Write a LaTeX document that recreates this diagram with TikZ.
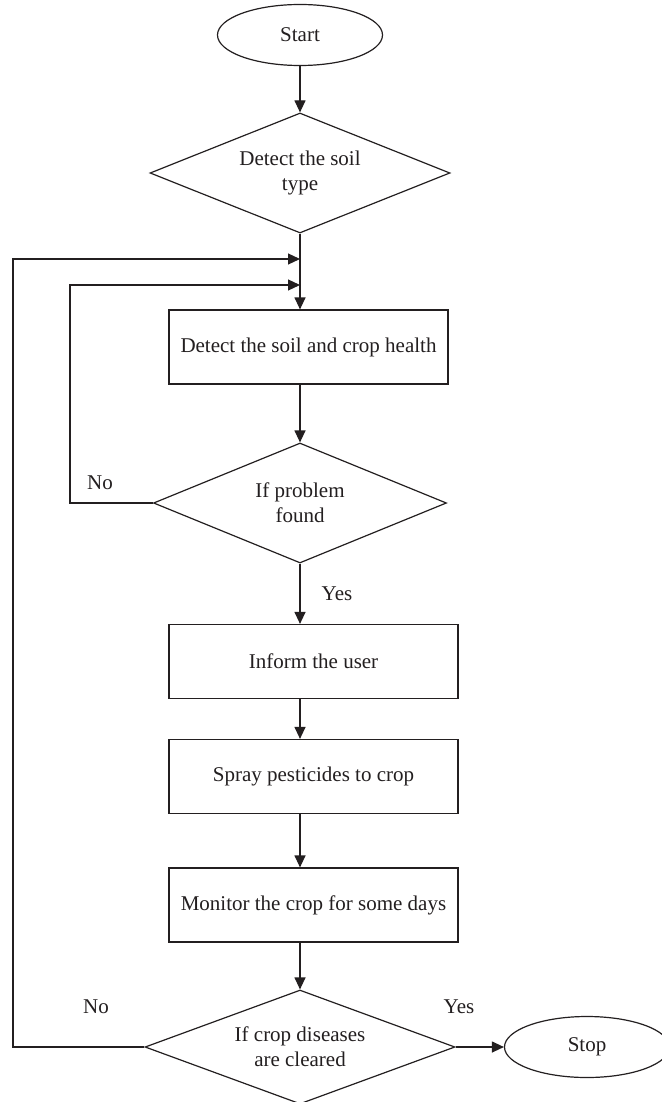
\documentclass[tikz,border=0pt]{standalone}
\usepackage{fontspec}
\setmainfont{Liberation Serif}
\usetikzlibrary{shapes.geometric,arrows.meta}
\definecolor{ink}{RGB}{35,31,32}
\begin{document}
\begin{tikzpicture}[x=1pt,y=-1pt,
  every node/.style={font=\fontsize{21}{25}\selectfont, text=ink},
  conn/.style={draw=ink, line width=1.2pt},
  arr/.style={conn, -{Triangle[length=12pt,width=11pt]}},
  term/.style={ellipse, draw=ink, line width=1.2pt, minimum width=165pt, minimum height=61pt, inner sep=0pt},
  proc/.style={rectangle, draw=ink, line width=1.2pt, minimum height=74pt, inner sep=0pt},
  dec/.style={diamond, draw=ink, line width=1.2pt, shape aspect=2.5, inner sep=0pt, align=center},
  lab/.style={inner sep=0pt}]
\useasboundingbox (0,0) rectangle (661,1102);
\fill[white] (0,0) rectangle (661,1102);

\node[term] (start) at (300,35) {Start};
\node[dec, minimum width=300pt, minimum height=120pt] (d1) at (300,173) {Detect the soil\\type};
\node[proc, minimum width=279pt] (b1) at (308.5,347) {Detect the soil and crop health};
\node[dec, minimum width=293pt, minimum height=120pt] (d2) at (300,503) {If problem\\found};
\node[proc, minimum width=289pt] (b2) at (313.5,661.5) {Inform the user};
\node[proc, minimum width=289pt] (b3) at (313.5,776.5) {Spray pesticides to crop};
\node[proc, minimum width=289pt] (b4) at (313.5,905) {Monitor the crop for some days};
\node[dec, minimum width=310pt, minimum height=114pt] (d3) at (300,1047) {If crop diseases\\are cleared};
\node[term] (stop) at (587,1047) {Stop};

\node[lab] (no1) at (100,483) {No};
\node[lab] (yes1) at (337,594) {Yes};
\node[lab] (no2) at (96,1007) {No};
\node[lab] (yes2) at (459,1007) {Yes};

\coordinate (l1) at (13,259);
\coordinate (l2) at (70,285);

\draw[arr] (start) -- (d1);
\draw[arr] (d1.south) -- (b1.north -| d1.south);
\draw[arr] (d2.west) -| (l2) -- (l2 -| d1.south);
\draw[arr] (d3.west) -| (l1) -- (l1 -| d1.south);
\draw[arr] (b1.south -| d2.north) -- (d2.north);
\draw[arr] (d2.south) -- (b2.north -| d2.south);
\draw[arr] (b2.south -| d2.south) -- (b3.north -| d2.south);
\draw[arr] (b3.south -| d2.south) -- (b4.north -| d2.south);
\draw[arr] (b4.south -| d3.north) -- (d3.north);
\draw[arr] (d3.east) -- (stop.west);
\end{tikzpicture}
\end{document}
